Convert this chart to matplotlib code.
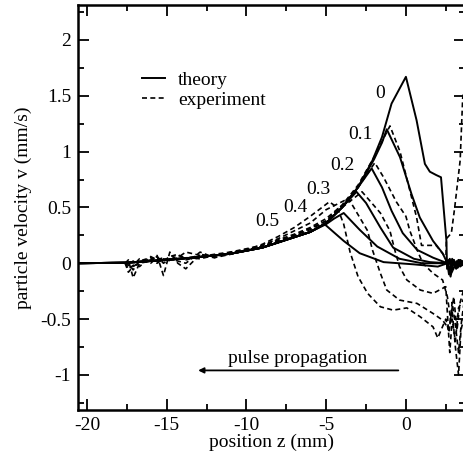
import matplotlib
matplotlib.use('Agg')
import matplotlib.pyplot as plt
import numpy as np

plt.rcParams['font.family'] = ['Liberation Serif', 'DejaVu Serif']

# common rising tail of the theory curves (mm, mm/s)
tail_z = [-20.56, -17.5, -15.0, -13.0, -11.0, -9.0, -7.5, -6.0]
tail_v = [0.0, 0.005, 0.03, 0.055, 0.085, 0.14, 0.21, 0.28]

# theory curves, labelled by time 0 ... 0.5
th0_z = [-5.0, -4.0, -3.0, -2.1, -1.5, -0.9, 0.0, 0.67, 1.19, 1.5, 1.9, 2.2, 2.54, 2.58, 2.7, 2.85, 3.0, 3.2, 3.4, 3.7]
th0_v = [0.36, 0.5, 0.68, 0.92, 1.13, 1.43, 1.67, 1.28, 0.89, 0.82, 0.79, 0.77, 0.2, -0.05, 0.03, -0.06, 0.02, -0.03, 0.02, 0.0]
th1_z = [-5.0, -4.0, -3.0, -2.0, -1.5, -1.2, -0.37, 0.35, 0.87, 1.7, 2.3, 2.6, 2.75, 2.9, 3.1, 3.3, 3.5, 3.7]
th1_v = [0.36, 0.5, 0.68, 0.93, 1.08, 1.2, 0.95, 0.62, 0.41, 0.2, 0.09, 0.0, -0.07, 0.04, -0.03, 0.03, -0.02, 0.01]
th2_z = [-5.0, -4.0, -3.0, -2.15, -1.5, -0.9, -0.2, 0.7, 1.7, 2.6, 2.8, 3.0, 3.2, 3.45, 3.7]
th2_v = [0.36, 0.5, 0.68, 0.85, 0.68, 0.47, 0.27, 0.12, 0.05, 0.0, -0.08, 0.03, -0.04, 0.02, -0.01]
th3_z = [-5.0, -4.0, -3.1, -2.5, -1.6, -0.8, 0.5, 1.5, 2.6, 2.7, 2.9, 3.15, 3.4, 3.7]
th3_v = [0.36, 0.5, 0.64, 0.54, 0.32, 0.14, 0.04, 0.01, 0.0, -0.1, 0.02, -0.05, 0.03, 0.0]
th4_z = [-5.0, -4.5, -3.9, -2.9, -1.8, -0.4, 1.0, 2.6, 2.75, 2.95, 3.2, 3.4, 3.7]
th4_v = [0.35, 0.4, 0.45, 0.3, 0.15, 0.04, 0.0, 0.0, 0.04, -0.06, 0.02, -0.03, 0.01]
th5_z = [-5.1, -3.9, -2.9, -1.4, 0.5, 2.0, 2.6, 2.8, 3.0, 3.25, 3.5, 3.7]
th5_v = [0.35, 0.2, 0.09, 0.01, -0.01, -0.03, 0.0, -0.12, 0.03, -0.04, 0.02, 0.0]

# experiment curves (noisy start at z ~ -17.6)
exl_z = [-17.6, -17.4, -17.1, -16.7, -16.0, -15.6, -15.2, -14.8, -14.3, -13.8, -12.9, -12.0, -11.0, -10.0, -9.0, -8.0]
ex1_z = exl_z + [-7.0, -6.0, -5.0, -4.0, -3.0, -2.0, -1.0, -0.37, 0.25, 0.67, 0.98, 1.9, 2.5, 2.6, 2.8, 3.0, 3.3, 3.7]
ex1_v = [0.0, 0.03, -0.13, 0.0, 0.02, 0.07, -0.11, 0.1, 0.0, -0.05, 0.08, 0.06, 0.09, 0.12, 0.15, 0.2,
         0.25, 0.31, 0.38, 0.52, 0.7, 0.95, 1.23, 1.0, 0.65, 0.41, 0.16, 0.16, 0.05, 0.02, -0.1, -0.05, 0.03, -0.02]
ex2_z = exl_z + [-7.0, -6.0, -5.0, -4.0, -3.0, -1.95, -1.4, -0.6, 0.0, 0.25, 0.7, 1.06, 1.7, 2.3, 2.6, 2.8, 3.0, 3.2, 3.4, 3.7]
ex2_v = [0.0, -0.05, -0.02, 0.04, 0.0, 0.05, 0.02, 0.06, 0.08, 0.03, 0.06, 0.08, 0.1, 0.11, 0.15, 0.21,
         0.26, 0.32, 0.4, 0.52, 0.68, 0.9, 0.77, 0.55, 0.42, 0.29, 0.12, 0.0, -0.09, -0.15, -0.3, -0.5, -0.3, -0.6, -0.35, -0.2]
ex3_z = exl_z + [-7.0, -6.0, -5.0, -4.0, -2.75, -1.6, -1.0, -0.7, -0.4, 0.06, 0.9, 1.7, 2.5, 2.6, 2.75, 2.9, 3.1, 3.3, 3.7]
ex3_v = [0.0, 0.0, -0.06, 0.02, 0.05, 0.0, 0.04, 0.03, 0.07, 0.05, 0.04, 0.07, 0.09, 0.12, 0.14, 0.19,
         0.25, 0.3, 0.38, 0.5, 0.64, 0.45, 0.29, 0.12, -0.03, -0.15, -0.24, -0.27, -0.21, -0.45, -0.8, -0.5, -0.7, -0.4, -0.3]
ex4_z = exl_z + [-7.0, -6.0, -5.0, -3.6, -2.4, -2.1, -1.6, -1.2, -0.4, 0.7, 1.7, 2.3, 2.5, 2.7, 2.9, 3.1, 3.3, 3.45, 3.7]
ex4_v = [0.0, -0.02, 0.02, -0.03, 0.06, 0.03, 0.05, 0.02, 0.05, 0.1, 0.07, 0.05, 0.1, 0.13, 0.16, 0.22,
         0.29, 0.36, 0.48, 0.58, 0.29, 0.12, -0.09, -0.24, -0.33, -0.36, -0.45, -0.51, -0.55, -0.6, -0.42, -0.75, -1.0, -0.6, -0.45]
ex5_z = exl_z + [-7.0, -6.0, -4.8, -4.3, -3.9, -3.5, -3.0, -2.4, -1.6, -0.8, 0.06, 0.9, 1.7, 2.0, 2.2, 2.5, 2.7, 2.9, 3.1, 3.3, 3.5, 3.7]
ex5_v = [0.0, -0.08, -0.03, 0.01, 0.03, 0.06, 0.0, 0.04, 0.02, 0.0, 0.1, 0.05, 0.08, 0.12, 0.17, 0.24,
         0.32, 0.42, 0.55, 0.5, 0.35, 0.1, -0.12, -0.27, -0.39, -0.42, -0.4, -0.48, -0.57, -0.67, -0.6, -0.5, -0.62, -0.35, -0.55, -0.8, -0.5, -0.3]
# experiment at the right edge, rising out of view
ex0_z = [2.5, 2.54, 2.85, 3.06, 3.4, 3.56, 3.75]
ex0_v = [0.0, 0.22, 0.27, 0.5, 0.92, 1.48, 1.6]

labels = ['0', '0.1', '0.2', '0.3', '0.4', '0.5']
label_z = [-1.63, -2.88, -4.0, -5.5, -6.9, -8.7]
label_v = [1.52, 1.15, 0.88, 0.66, 0.50, 0.37]

fig = plt.figure(figsize=(4.64, 4.57), dpi=100)
ax = fig.add_axes([0.168, 0.103, 0.834, 0.886])

theory = [(th0_z, th0_v), (th1_z, th1_v), (th2_z, th2_v),
          (th3_z, th3_v), (th4_z, th4_v), (th5_z, th5_v)]
for i, (z, v) in enumerate(theory):
    ax.plot(tail_z + z, tail_v + v, color='black', lw=1.4,
            label='theory' if i == 0 else None)

experiment = [(ex1_z, ex1_v), (ex2_z, ex2_v), (ex3_z, ex3_v),
              (ex4_z, ex4_v), (ex5_z, ex5_v), (ex0_z, ex0_v)]
for i, (z, v) in enumerate(experiment):
    ax.plot(z, v, color='black', lw=1.2, ls=(0, (3, 2)),
            label='experiment' if i == 0 else None)

for s, z, v in zip(labels, label_z, label_v):
    ax.text(z, v, s, fontsize=14, ha='center', va='center')

ax.annotate('', xy=(-13.2, -0.96), xytext=(-0.3, -0.96),
            arrowprops=dict(arrowstyle='-|>', color='black', lw=1.3,
                            mutation_scale=8))
ax.text(-6.8, -0.85, 'pulse propagation', fontsize=14, ha='center', va='center')

ax.set_xlim(-20.56, 3.7)
ax.set_ylim(-1.314, 2.313)
ax.set_xticks([-20, -15, -10, -5, 0])
ax.set_xticklabels(['-20', '-15', '-10', '-5', '0'])
ax.set_xticks(np.arange(-17.5, 3.6, 5), minor=True)
ax.set_yticks([-1, -0.5, 0, 0.5, 1, 1.5, 2])
ax.set_yticklabels(['-1', '-0.5', '0', '0.5', '1', '1.5', '2'])
ax.set_yticks(np.arange(-1.25, 2.3, 0.5), minor=True)
ax.tick_params(which='both', direction='in', top=True, right=True,
               labelsize=14, width=1.3, pad=5)
ax.tick_params(which='major', length=8)
ax.tick_params(which='minor', length=4)
for sp in ax.spines.values():
    sp.set_linewidth(1.8)

ax.set_xlabel('position z (mm)', fontsize=14, labelpad=0)
ax.set_ylabel('particle velocity v (mm/s)', fontsize=14, labelpad=6)

ax.legend(loc='upper left', bbox_to_anchor=(0.14, 0.86), frameon=False,
          fontsize=14, handlelength=1.2, handletextpad=0.65,
          labelspacing=0.1, borderpad=0)

fig.savefig('out.png', dpi=100)
